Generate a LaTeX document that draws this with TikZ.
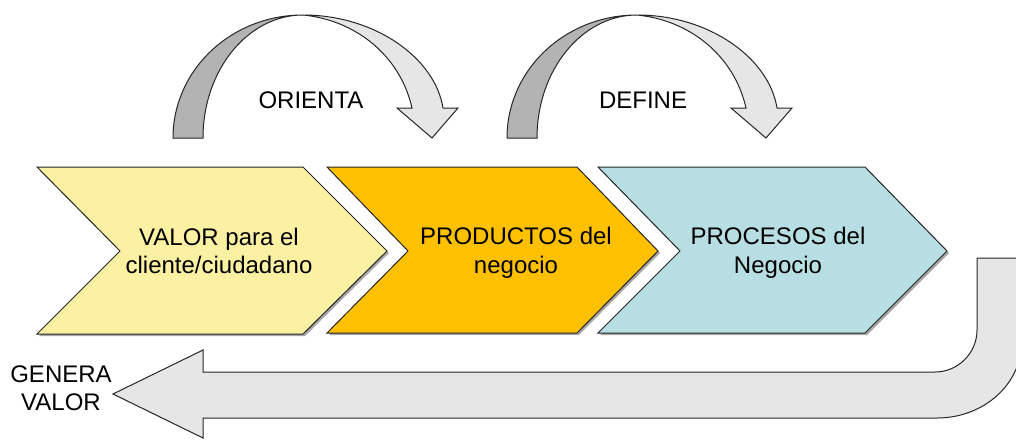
\documentclass[tikz,border=0pt]{standalone}
\usepackage{fontspec}
\setmainfont{Liberation Sans}
\definecolor{chA}{HTML}{FCF0A2}
\definecolor{chB}{HTML}{FFC000}
\definecolor{chC}{HTML}{B7DEE2}
\definecolor{bandDark}{HTML}{B3B3B3}
\definecolor{bandLight}{HTML}{E6E6E6}
\definecolor{edge}{HTML}{262626}
\begin{document}
\begin{tikzpicture}[x=1pt,y=-1pt,
  chev/.style={draw=edge,line width=1pt,line join=miter},
  shade/.style={fill=black!35,draw=none},
  band/.style={draw=edge,line width=1pt,line join=miter},
  lbl/.style={font=\fontsize{24}{28.5}\selectfont,align=center,inner sep=0pt,text=black}]
\useasboundingbox (0,0) rectangle (1016,439);

% chevron shadows
\path[shade] (39,169) -- (305,169) -- (389,253) -- (305,336) -- (39,336) -- (122,253) -- cycle;
\path[shade] (329,169) -- (579,169) -- (660,253) -- (579,335) -- (329,335) -- (410,253) -- cycle;
\path[shade] (600,169) -- (867,169) -- (949,253) -- (867,335) -- (600,335) -- (682,253) -- cycle;
% chevrons
\draw[chev,fill=chA] (37,167) -- (303,167) -- (387,251) -- (303,334) -- (37,334) -- (120,251) -- cycle;
\draw[chev,fill=chB] (327,167) -- (577,167) -- (658,251) -- (577,333) -- (327,333) -- (408,251) -- cycle;
\draw[chev,fill=chC] (598,167) -- (865,167) -- (947,251) -- (865,333) -- (598,333) -- (680,251) -- cycle;

\node[lbl] (valor) at (219,251) {VALOR para el\\cliente/ciudadano};
\node[lbl] (productos) at (516,253) {PRODUCTOS del\\negocio};
\node[lbl] (procesos) at (778,253) {PROCESOS del\\Negocio};

% curved arrows
\foreach \dx/\nm in {0/one,334/two}{
  \begin{scope}[xshift=\dx]
    \draw[band,fill=bandDark] (173,138) .. controls (173,70) and (231,15) .. (303,15)
      .. controls (248,15) and (203,70) .. (203,138) -- cycle;
    \draw[band,fill=bandLight] (303,15) .. controls (375,15) and (435,58) .. (443,108)
      -- (458,108) -- (432,138) -- (397,108) -- (412,108)
      .. controls (400,55) and (355,20) .. (303,15) -- cycle;
  \end{scope}
}
\node[lbl] (orienta) at (311,100) {ORIENTA};
\node[lbl] (define) at (643,100) {DEFINE};

% bottom return arrow
\draw[band,fill=bandLight] (113,394) -- (203,350) -- (203,372) -- (935,372)
  .. controls (958,372) and (977,353) .. (977,330) -- (977,258) -- (1022,258)
  -- (1022,340) .. controls (1022,385) and (983,418) .. (937,418)
  -- (203,418) -- (203,438) -- cycle;

\node[lbl] (genera) at (61,388) {GENERA\\VALOR};
\end{tikzpicture}
\end{document}
